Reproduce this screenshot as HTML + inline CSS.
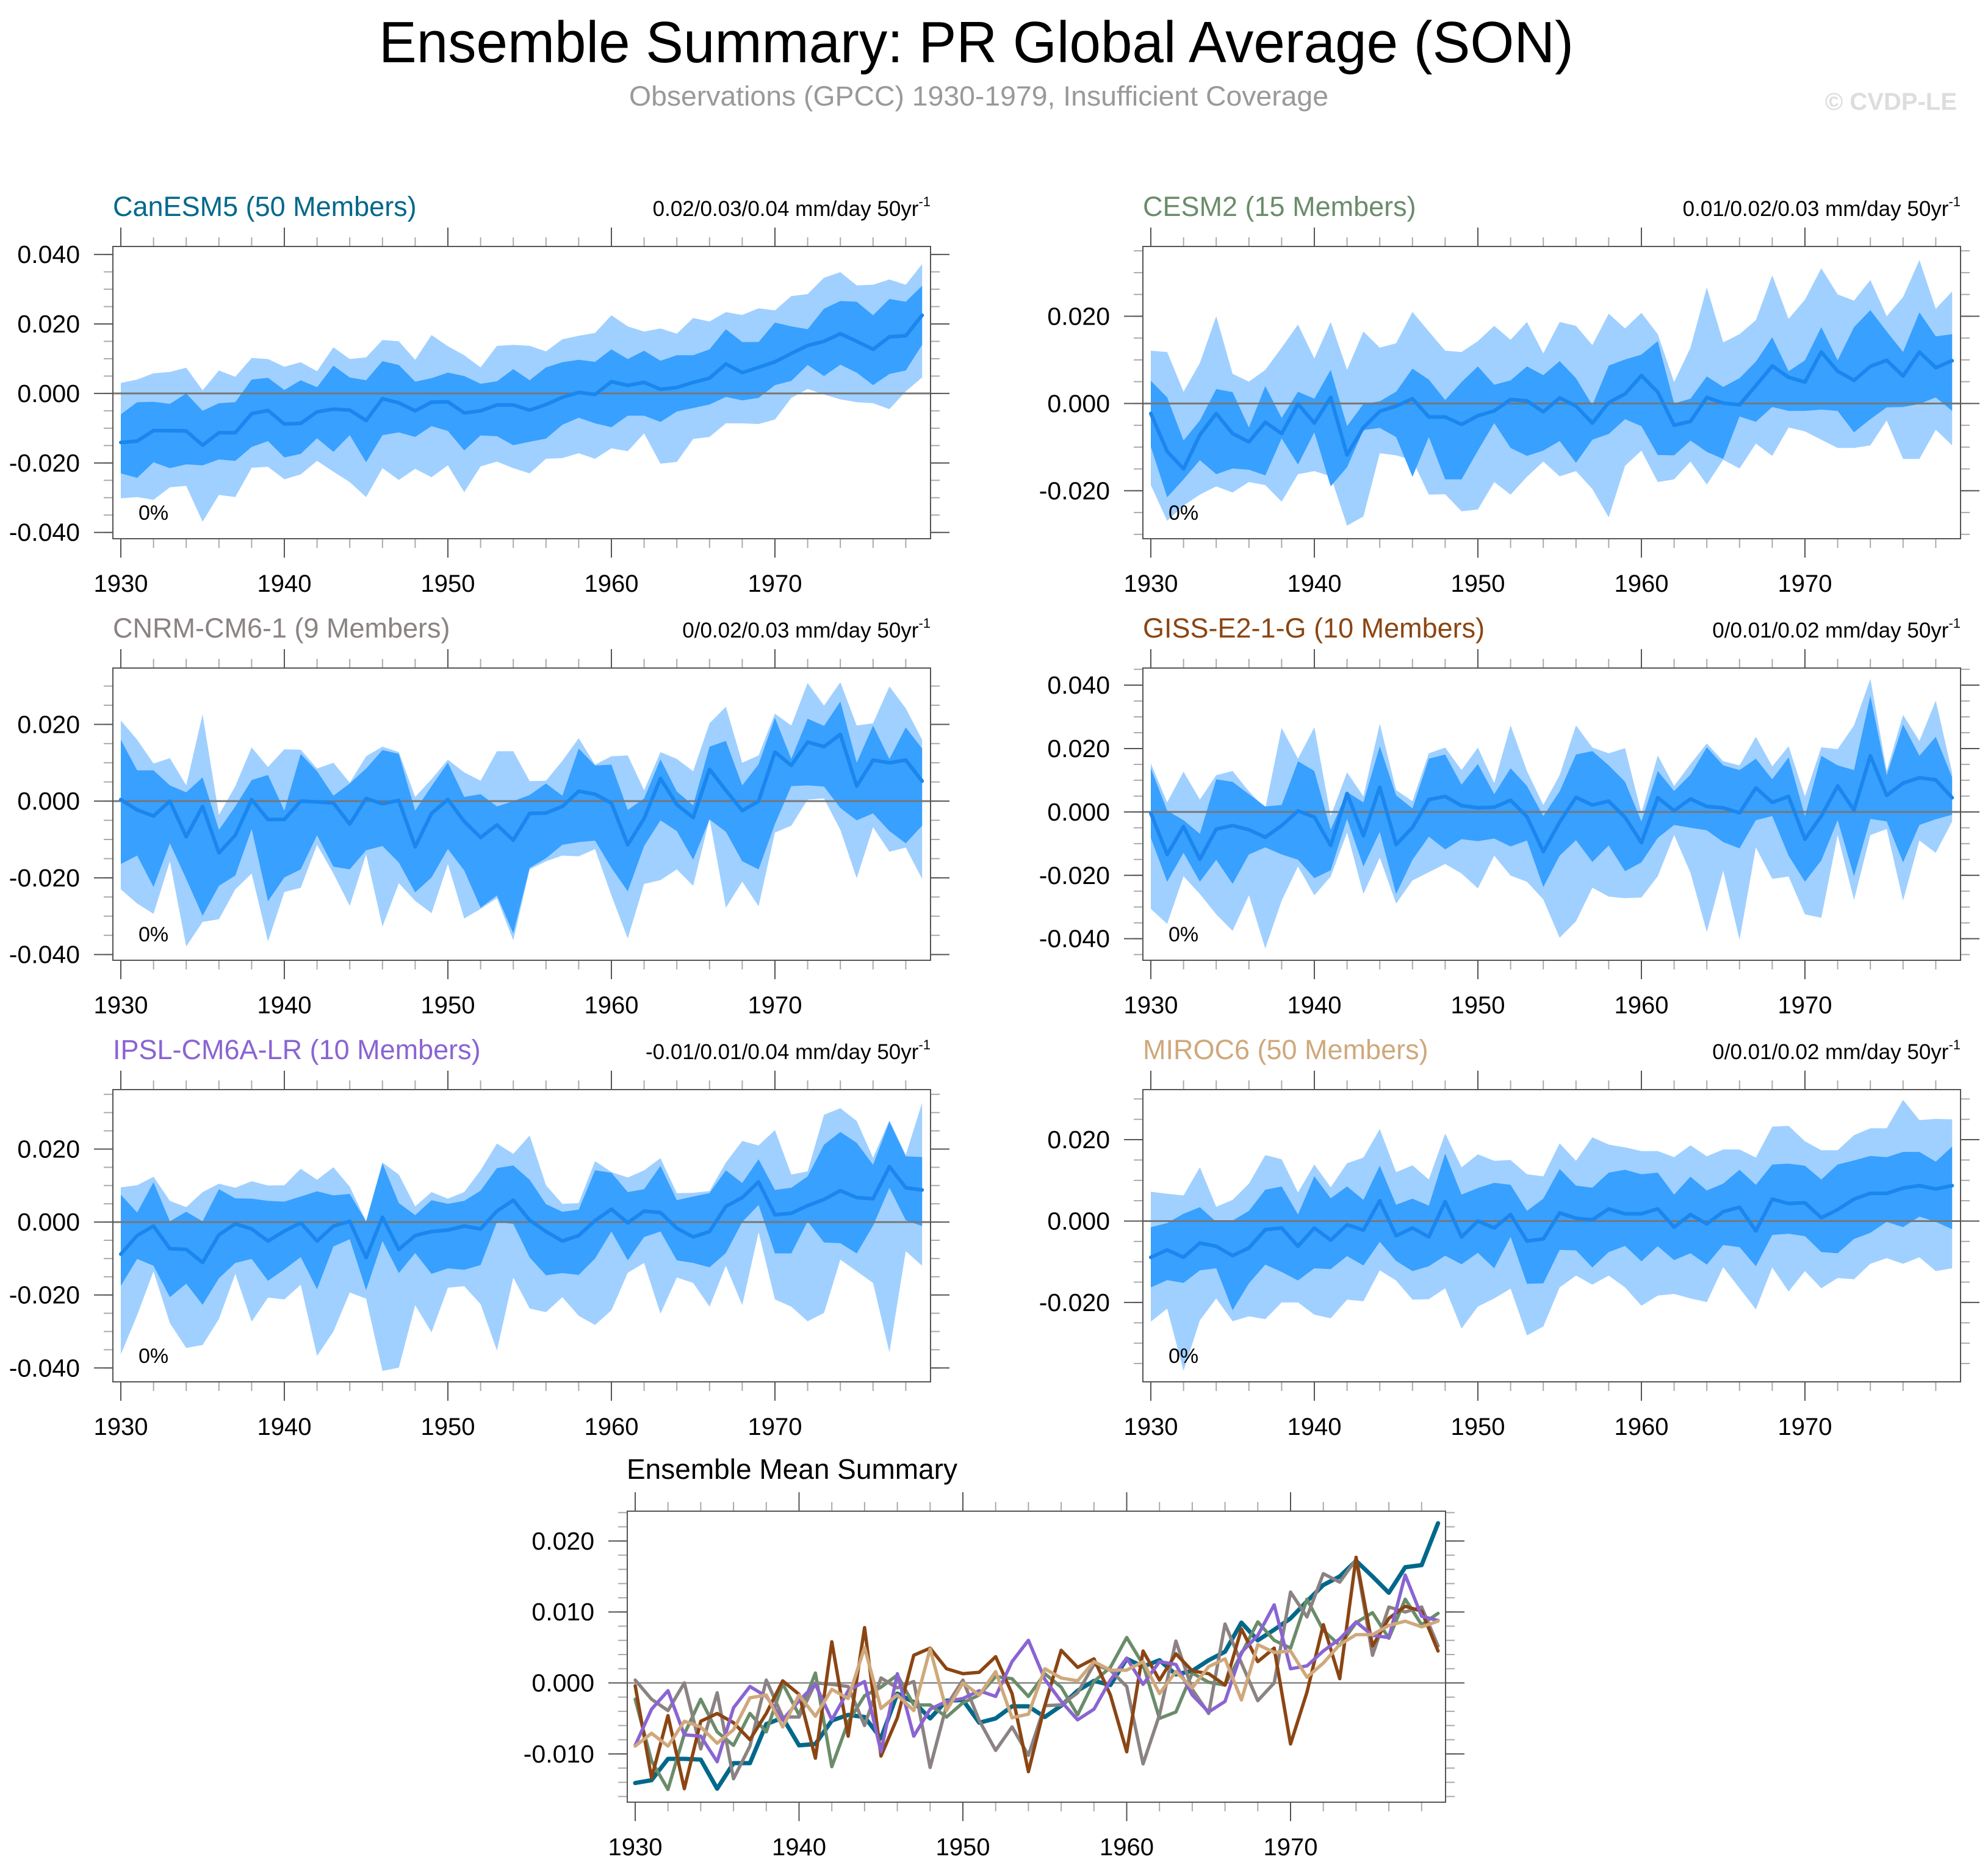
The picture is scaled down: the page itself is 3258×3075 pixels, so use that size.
<!DOCTYPE html>
<html><head><meta charset="utf-8"><title>Ensemble Summary: PR Global Average (SON)</title>
<style>
html,body{margin:0;padding:0;background:#fff;}
svg{display:block;font-family:"Liberation Sans",Arial,sans-serif;}
</style></head>
<body>
<svg id="fig" width="3258" height="3075" viewBox="0 0 3258 3075" xmlns="http://www.w3.org/2000/svg">
<rect x="0" y="0" width="3258" height="3075" fill="#fff"/>
<text x="1600" y="102" font-size="96" text-anchor="middle" fill="#000" textLength="1958" lengthAdjust="spacingAndGlyphs">Ensemble Summary: PR Global Average (SON)</text>
<text x="1604" y="173" font-size="45" text-anchor="middle" fill="#999" textLength="1146" lengthAdjust="spacingAndGlyphs">Observations (GPCC) 1930-1979, Insufficient Coverage</text>
<text x="3207" y="180" font-size="40" font-weight="bold" text-anchor="end" fill="#ddd">© CVDP-LE</text>
<g id="panels"></g>
</svg>
<script>
const years = [1930,1931,1932,1933,1934,1935,1936,1937,1938,1939,1940,1941,1942,1943,1944,1945,1946,1947,1948,1949,1950,1951,1952,1953,1954,1955,1956,1957,1958,1959,1960,1961,1962,1963,1964,1965,1966,1967,1968,1969,1970,1971,1972,1973,1974,1975,1976,1977,1978,1979];
const yearTickLabels = ["1930","1940","1950","1960","1970"];

// CanESM5
const canMean = [-0.0141,-0.0137,-0.0107,-0.0107,-0.0108,-0.0149,-0.0113,-0.0113,-0.0058,-0.0049,-0.0088,-0.0086,-0.0053,-0.0045,-0.0048,-0.0078,-0.0015,-0.0027,-0.005,-0.0025,-0.0024,-0.0056,-0.005,-0.0033,-0.0033,-0.0048,-0.0032,-0.0011,0.0003,-0.0003,0.0034,0.0023,0.0032,0.0012,0.0017,0.0032,0.0044,0.0085,0.006,0.0075,0.0091,0.0115,0.0138,0.015,0.0172,0.015,0.0127,0.0163,0.0166,0.0225];
const canDarkHi = [-0.006,-0.0025,-0.0024,-0.003,0.0,-0.005,-0.0028,-0.0025,0.004,0.0045,0.001,0.0038,0.0018,0.008,0.0046,0.0038,0.0093,0.0082,0.0034,0.0044,0.006,0.005,0.0028,0.0035,0.007,0.0038,0.0075,0.009,0.0097,0.0091,0.0127,0.0099,0.0123,0.0094,0.011,0.011,0.0127,0.0185,0.0148,0.0148,0.0204,0.0193,0.0185,0.0244,0.0266,0.0264,0.0225,0.0272,0.0264,0.031];
const canDarkLo = [-0.023,-0.0243,-0.0198,-0.0215,-0.0204,-0.0207,-0.019,-0.0194,-0.0154,-0.0137,-0.0184,-0.0174,-0.0129,-0.0168,-0.012,-0.0198,-0.012,-0.0112,-0.0125,-0.0094,-0.0108,-0.0164,-0.0121,-0.0123,-0.0149,-0.0139,-0.013,-0.009,-0.007,-0.0086,-0.0097,-0.0064,-0.0064,-0.0082,-0.0052,-0.0042,-0.0032,-0.001,-0.002,-0.0013,0.0024,0.0036,0.0082,0.005,0.0083,0.006,0.0024,0.0056,0.0066,0.014];
const canLightHi = [0.003,0.004,0.0058,0.0062,0.0074,0.0009,0.0066,0.0048,0.0102,0.0099,0.0077,0.009,0.0064,0.0133,0.0099,0.0104,0.0154,0.015,0.0097,0.0168,0.0136,0.011,0.0075,0.0137,0.014,0.0137,0.0121,0.0156,0.0166,0.0174,0.0225,0.0193,0.0178,0.0187,0.0172,0.0217,0.0207,0.0234,0.0226,0.0245,0.0239,0.028,0.0286,0.0333,0.0349,0.0311,0.0313,0.0328,0.0313,0.0372];
const canLightLo = [-0.0302,-0.0298,-0.0306,-0.027,-0.0266,-0.0369,-0.0292,-0.0298,-0.0214,-0.0211,-0.0247,-0.0233,-0.0194,-0.0225,-0.0255,-0.0298,-0.0215,-0.0249,-0.0217,-0.0241,-0.0207,-0.0284,-0.021,-0.0196,-0.0215,-0.023,-0.0188,-0.0186,-0.0172,-0.0188,-0.0158,-0.0166,-0.0115,-0.0202,-0.0197,-0.0131,-0.0125,-0.0086,-0.0086,-0.0088,-0.0075,-0.0013,0.0013,-0.0003,-0.0017,-0.0025,-0.0028,-0.0045,0.0006,0.0046];

// CESM2
const cesmMean = [-0.0023,-0.011,-0.015,-0.0072,-0.0023,-0.0069,-0.0088,-0.0043,-0.0069,-0.0001,-0.0045,0.0014,-0.0118,-0.0055,-0.0018,-0.0006,0.0011,-0.0031,-0.0031,-0.0048,-0.0028,-0.0017,0.0009,0.0006,-0.0019,0.0013,-0.0006,-0.0045,0.0002,0.0022,0.0064,0.0026,-0.005,-0.0041,0.0014,0.0001,-0.0003,0.0041,0.0086,0.006,0.0049,0.0118,0.0074,0.0053,0.0085,0.0099,0.0063,0.0118,0.0082,0.0098];
const cesmDarkHi = [0.0052,0.0014,-0.0085,-0.0039,0.0033,0.0026,-0.0055,0.004,-0.0033,0.0027,0.0011,0.0077,-0.0052,-0.0001,0.0005,0.0027,0.008,0.0055,0.0008,0.0049,0.0085,0.0043,0.0053,0.0085,0.0065,0.0097,0.0058,-0.0004,0.0087,0.0101,0.0112,0.0143,0.0,0.0011,0.0062,0.0038,0.0058,0.0096,0.0152,0.0074,0.0099,0.0175,0.0099,0.0175,0.0214,0.0165,0.0118,0.0209,0.0154,0.0159];
const cesmDarkLo = [-0.0099,-0.0215,-0.0174,-0.013,-0.0162,-0.0149,-0.0152,-0.0165,-0.008,-0.014,-0.0066,-0.019,-0.0146,-0.0061,-0.0056,-0.0077,-0.0168,-0.0077,-0.0174,-0.0174,-0.0108,-0.0045,-0.0102,-0.012,-0.0108,-0.0086,-0.0136,-0.0083,-0.007,-0.0036,-0.0052,-0.0118,-0.0119,-0.0085,-0.0111,-0.0127,-0.003,-0.0042,-0.0008,-0.0017,-0.0017,-0.0014,-0.0017,-0.0066,-0.0036,-0.0009,-0.0008,-0.0001,0.0014,-0.0017];
const cesmLightHi = [0.0121,0.0118,0.0027,0.0093,0.02,0.0068,0.005,0.0077,0.0128,0.0181,0.0103,0.0187,0.0077,0.0165,0.0128,0.0138,0.021,0.0165,0.0121,0.0118,0.0143,0.0178,0.0146,0.0187,0.0115,0.0187,0.0178,0.0134,0.0206,0.0172,0.0208,0.0159,0.0049,0.0128,0.0266,0.014,0.0159,0.0191,0.0294,0.0194,0.0238,0.031,0.025,0.0236,0.0283,0.02,0.0244,0.0329,0.0217,0.0257];
const cesmLightLo = [-0.0187,-0.0269,-0.0234,-0.0209,-0.019,-0.0204,-0.018,-0.0187,-0.0225,-0.0162,-0.0155,-0.0167,-0.028,-0.0259,-0.0114,-0.0119,-0.013,-0.0209,-0.0208,-0.0247,-0.0243,-0.018,-0.0209,-0.0168,-0.0133,-0.0167,-0.0155,-0.0196,-0.0261,-0.0143,-0.0108,-0.018,-0.0174,-0.0133,-0.0186,-0.0129,-0.0149,-0.0092,-0.012,-0.0055,-0.0064,-0.0083,-0.0102,-0.0102,-0.0096,-0.0039,-0.0127,-0.0127,-0.006,-0.0096];

// CNRM-CM6-1
const cnrmMean = [0.0004,-0.0023,-0.0039,0.0,-0.0093,-0.0014,-0.0135,-0.0089,0.0004,-0.0048,-0.0048,0.0,-0.0002,-0.0005,-0.006,0.0007,-0.0007,0.0002,-0.0119,-0.0032,0.0004,-0.0053,-0.0095,-0.0062,-0.0102,-0.0032,-0.0031,-0.0014,0.0026,0.0018,-0.0005,-0.0114,-0.0045,0.0059,-0.0009,-0.0043,0.0083,0.0028,-0.0025,0.0,0.0128,0.0093,0.0154,0.0142,0.0174,0.0039,0.0107,0.01,0.0107,0.0052];
const cnrmDarkHi = [0.016,0.008,0.008,0.0041,0.0023,0.0062,-0.0075,-0.0014,0.0055,0.0068,-0.0025,0.0123,0.0078,0.0014,0.0046,0.0085,0.0133,0.0123,-0.0025,0.0039,0.01,0.0011,0.0018,-0.0014,0.0,0.0016,0.0046,0.0014,0.0137,0.0093,0.0095,-0.0023,0.0007,0.0109,0.0025,-0.0011,0.0142,0.0157,0.0041,0.0096,0.0217,0.011,0.0215,0.0196,0.026,0.01,0.0197,0.011,0.0192,0.0137];
const cnrmDarkLo = [-0.0164,-0.0142,-0.0224,-0.011,-0.0203,-0.0299,-0.0221,-0.0194,-0.0073,-0.0261,-0.0199,-0.0178,-0.0089,-0.0171,-0.0178,-0.0128,-0.0117,-0.016,-0.0238,-0.0199,-0.0125,-0.0181,-0.0278,-0.0246,-0.0345,-0.0174,-0.0149,-0.0114,-0.0107,-0.0103,-0.0174,-0.0235,-0.0117,-0.005,-0.0078,-0.0153,-0.0048,-0.008,-0.0157,-0.0178,-0.006,0.0039,0.0041,0.0038,-0.0018,-0.005,-0.0032,-0.0078,-0.011,-0.0064];
const cnrmLightHi = [0.021,0.016,0.0098,0.0112,0.0041,0.0226,-0.0036,0.0039,0.014,0.0089,0.0135,0.0134,0.0085,0.01,0.0048,0.0117,0.0142,0.0128,0.0011,0.0057,0.0108,0.0075,0.0053,0.013,0.013,0.0052,0.0053,0.0105,0.0164,0.0095,0.0117,0.0119,0.0028,0.0128,0.011,0.0078,0.0203,0.0246,0.01,0.0119,0.0228,0.0197,0.0308,0.0249,0.031,0.0197,0.0203,0.0299,0.0242,0.016];
const cnrmLightLo = [-0.023,-0.0267,-0.0294,-0.0157,-0.0379,-0.0315,-0.0308,-0.023,-0.0189,-0.0366,-0.0237,-0.0226,-0.0114,-0.0189,-0.0273,-0.0139,-0.0327,-0.0214,-0.026,-0.0292,-0.0164,-0.0306,-0.0281,-0.0253,-0.0363,-0.0178,-0.0157,-0.0142,-0.0144,-0.0125,-0.0246,-0.0358,-0.0216,-0.0206,-0.0178,-0.0221,-0.0046,-0.0278,-0.021,-0.0274,-0.0082,-0.0064,0.0004,0.0007,-0.0075,-0.0201,-0.0068,-0.0132,-0.0121,-0.0203];

// GISS-E2-1-G
const gissMean = [-0.0004,-0.0134,-0.0046,-0.0149,-0.0054,-0.0043,-0.0056,-0.008,-0.0043,0.0003,-0.0016,-0.0106,0.0058,-0.0075,0.0078,-0.0103,-0.0049,0.0039,0.0049,0.002,0.0013,0.0015,0.0037,-0.0015,-0.0125,-0.0032,0.0046,0.0022,0.0034,-0.0017,-0.0097,0.0045,0.0004,0.0041,0.0017,0.0013,-0.0003,0.0076,0.003,0.0049,-0.0086,-0.0013,0.0082,0.0006,0.0177,0.0052,0.0091,0.0108,0.0101,0.0045];
const gissDarkHi = [0.0138,0.0004,-0.0026,-0.0069,0.0103,0.0095,0.0056,0.0017,0.0022,0.016,0.0129,-0.0056,0.0063,0.003,0.0207,0.0052,0.0011,0.0168,0.0181,0.0086,0.0151,0.0056,0.0138,0.0082,-0.0013,0.0065,0.0181,0.0192,0.0147,0.0095,-0.003,0.0129,0.0066,0.0118,0.0204,0.0147,0.0132,0.0168,0.0103,0.0172,-0.0013,0.0177,0.0147,0.0132,0.0366,0.0116,0.0276,0.0177,0.0237,0.0109];
const gissDarkLo = [-0.0082,-0.022,-0.0129,-0.022,-0.0151,-0.0227,-0.0134,-0.0112,-0.0134,-0.0151,-0.0209,-0.0184,-0.0022,-0.0172,-0.0063,-0.0259,-0.0151,-0.0078,-0.0118,-0.0086,-0.0092,-0.0084,-0.0109,-0.009,-0.0237,-0.0138,-0.0089,-0.0158,-0.0106,-0.0187,-0.0159,-0.0082,-0.0041,-0.005,-0.0058,-0.0095,-0.0115,-0.0026,-0.0013,-0.0138,-0.022,-0.0153,-0.0026,-0.0203,-0.0022,-0.003,-0.0159,-0.0041,-0.0023,-0.0009];
const gissLightHi = [0.0153,0.003,0.0127,0.0039,0.0116,0.0129,0.0065,0.0011,0.0265,0.0168,0.0267,-0.0013,0.0125,0.0049,0.0278,0.0069,0.0034,0.0185,0.0203,0.0132,0.0203,0.0091,0.0273,0.0129,0.0022,0.0116,0.0273,0.0203,0.0185,0.0201,-0.0004,0.0178,0.0082,0.0151,0.0216,0.016,0.0147,0.0237,0.0144,0.0207,0.0049,0.0204,0.0198,0.0273,0.042,0.0129,0.0306,0.0224,0.0351,0.0125];
const gissLightLo = [-0.0306,-0.0353,-0.0203,-0.0259,-0.0323,-0.0375,-0.0263,-0.0431,-0.028,-0.0172,-0.0263,-0.0204,-0.0065,-0.0259,-0.0144,-0.0289,-0.0216,-0.019,-0.0164,-0.0194,-0.0241,-0.0138,-0.0201,-0.022,-0.0276,-0.0397,-0.0345,-0.0239,-0.0267,-0.0272,-0.027,-0.0203,-0.0073,-0.0192,-0.0379,-0.0185,-0.0403,-0.0112,-0.0211,-0.0204,-0.0323,-0.0334,-0.0073,-0.0278,-0.0073,-0.0054,-0.028,-0.009,-0.0129,-0.003];

// IPSL-CM6A-LR
const ipslMean = [-0.0088,-0.0037,-0.0011,-0.0073,-0.0075,-0.0111,-0.0035,-0.0005,-0.0019,-0.0052,-0.0025,-0.0002,-0.0052,-0.0011,0.0002,-0.0097,0.0013,-0.0075,-0.0037,-0.0026,-0.0022,-0.0011,-0.0019,0.003,0.006,0.0005,-0.0026,-0.0052,-0.0037,0.0004,0.0035,-0.0002,0.003,0.0026,-0.0017,-0.0041,-0.0026,0.0043,0.0067,0.011,0.002,0.0024,0.0045,0.0062,0.0086,0.0067,0.0064,0.0152,0.0094,0.0088];
const ipslDarkHi = [0.0075,0.0026,0.0109,0.0002,0.0028,0.0002,0.009,0.0065,0.0064,0.0058,0.0056,0.007,0.0084,0.0073,0.0077,0.0002,0.0161,0.0052,0.0019,0.006,0.005,0.0058,0.0086,0.0148,0.0155,0.0116,0.0049,0.0028,0.0034,0.0142,0.0135,0.0082,0.009,0.0154,0.006,0.007,0.0079,0.0142,0.0107,0.0172,0.0088,0.0094,0.0125,0.0212,0.0247,0.0217,0.0157,0.0275,0.018,0.0178];
const ipslDarkLo = [-0.0175,-0.0101,-0.012,-0.0206,-0.0169,-0.0227,-0.0154,-0.0112,-0.0101,-0.0161,-0.013,-0.0096,-0.0184,-0.0067,-0.0047,-0.0187,-0.0052,-0.014,-0.0085,-0.0142,-0.0127,-0.0131,-0.0118,0.0,-0.0005,-0.0097,-0.0146,-0.014,-0.0145,-0.01,-0.0026,-0.0105,-0.0041,-0.0026,-0.0105,-0.0112,-0.0124,-0.0085,0.0,0.0047,-0.0086,-0.0086,0.0002,-0.0056,-0.0058,-0.0086,-0.001,0.0094,0.0005,-0.0011];
const ipslLightHi = [0.0095,0.0101,0.0124,0.0058,0.0041,0.0082,0.0105,0.0094,0.0112,0.01,0.0101,0.0146,0.0116,0.015,0.0097,0.0002,0.0163,0.013,0.0043,0.0082,0.0064,0.0082,0.0142,0.0215,0.0187,0.0237,0.0101,0.005,0.0052,0.0167,0.0137,0.0122,0.0142,0.0175,0.0079,0.008,0.0085,0.0163,0.0222,0.021,0.0252,0.013,0.0139,0.0294,0.0312,0.0277,0.0176,0.0279,0.0184,0.0327];
const ipslLightLo = [-0.0363,-0.0255,-0.0135,-0.0277,-0.0345,-0.0337,-0.0266,-0.0142,-0.0273,-0.0207,-0.0212,-0.0172,-0.0367,-0.03,-0.0193,-0.021,-0.0408,-0.0399,-0.0228,-0.0302,-0.018,-0.0176,-0.0225,-0.0352,-0.0152,-0.0237,-0.0247,-0.0206,-0.0257,-0.0282,-0.0242,-0.0139,-0.0112,-0.0251,-0.0152,-0.0167,-0.0232,-0.012,-0.0228,-0.0028,-0.0212,-0.0232,-0.0272,-0.0249,-0.0103,-0.0135,-0.0167,-0.0357,-0.008,-0.012];

// MIROC6
const mirocMean = [-0.0089,-0.0071,-0.0089,-0.0054,-0.0062,-0.0085,-0.0066,-0.0021,-0.0017,-0.0062,-0.0017,-0.0047,-0.0009,-0.0022,0.005,-0.0036,-0.0017,-0.0039,0.0048,-0.0039,0.0,-0.0017,0.0016,-0.0049,-0.0044,0.002,0.0007,0.0003,0.003,0.0018,0.0018,0.003,-0.0015,0.0016,-0.0007,0.0023,0.0034,-0.0024,0.0054,0.0043,0.0045,0.0008,0.0028,0.0054,0.0068,0.0068,0.0081,0.0087,0.0079,0.0087];
const mirocDarkHi = [-0.0015,-0.0005,0.0018,0.0034,-0.0002,0.0001,0.0025,0.0077,0.0085,0.0016,0.011,0.0056,0.0085,0.0052,0.0136,0.004,0.0055,0.0038,0.0166,0.0065,0.0081,0.0094,0.0089,0.0025,0.0055,0.0128,0.0087,0.0082,0.0119,0.0126,0.0115,0.0119,0.0065,0.0109,0.0075,0.0092,0.0126,0.0089,0.0139,0.0141,0.0136,0.0102,0.0139,0.0149,0.016,0.0157,0.017,0.017,0.0146,0.0183];
const mirocDarkLo = [-0.0163,-0.0145,-0.0152,-0.0121,-0.0116,-0.0219,-0.0153,-0.0107,-0.0125,-0.0146,-0.0116,-0.0118,-0.0086,-0.0109,-0.0051,-0.0098,-0.0123,-0.0111,-0.0085,-0.0106,-0.0078,-0.0116,-0.0039,-0.0154,-0.0153,-0.0071,-0.0072,-0.0114,-0.0076,-0.0061,-0.0099,-0.0062,-0.0096,-0.0079,-0.0107,-0.0059,-0.0064,-0.0111,-0.0034,-0.0031,-0.0037,-0.0076,-0.0079,-0.0044,-0.0029,-0.0002,-0.0015,0.0011,-0.0002,-0.002];
const mirocLightHi = [0.0072,0.0067,0.0063,0.0132,0.0035,0.0052,0.0092,0.0162,0.0152,0.007,0.0139,0.0083,0.0142,0.0156,0.0226,0.012,0.0137,0.0102,0.0215,0.0132,0.0164,0.0148,0.015,0.0115,0.011,0.0191,0.0148,0.0206,0.0188,0.0181,0.0172,0.0172,0.0157,0.0186,0.0159,0.0176,0.0176,0.0156,0.0232,0.0234,0.0196,0.0174,0.0174,0.0211,0.0228,0.0228,0.0298,0.0248,0.0251,0.025];
const mirocLightLo = [-0.0247,-0.0215,-0.0368,-0.0244,-0.019,-0.0246,-0.0234,-0.0241,-0.02,-0.02,-0.023,-0.0239,-0.0193,-0.0197,-0.0121,-0.0146,-0.0193,-0.0192,-0.0165,-0.0264,-0.021,-0.019,-0.0166,-0.0281,-0.0259,-0.0163,-0.0134,-0.0156,-0.0134,-0.0163,-0.0208,-0.0183,-0.0179,-0.019,-0.0199,-0.0113,-0.0165,-0.0217,-0.0114,-0.0173,-0.0123,-0.0165,-0.014,-0.0143,-0.0105,-0.0091,-0.0105,-0.0089,-0.0123,-0.0116];

const NS = "http://www.w3.org/2000/svg";
const root = document.getElementById("panels");
function mk(tag, attrs, parent) {
  const e = document.createElementNS(NS, tag);
  for (const k in attrs) e.setAttribute(k, attrs[k]);
  (parent || root).appendChild(e);
  return e;
}
function fmt(v) { return (Math.abs(v) < 1e-9 ? 0 : v).toFixed(3); }

function drawAxes(g, L) {
  const sx = yr => L.xa + (yr - 1930) * L.xs;
  const sy = v => L.y1 - (v - L.dmin) / (L.dmax - L.dmin) * (L.y1 - L.y0);
  for (let yr = 1930; yr <= 1978; yr += 2) {
    const major = (yr % 10 === 0);
    const len = major ? 31 : 15;
    const col = major ? "#555" : "#aaa";
    const t1 = mk("line", {x1: sx(yr), x2: sx(yr), y1: L.y0, y2: L.y0 - len, stroke: col, "stroke-width": 2}, g);
    
    
    const t2 = mk("line", {x1: sx(yr), x2: sx(yr), y1: L.y1, y2: L.y1 + len, stroke: col, "stroke-width": 2}, g);
    
    
  }
  yearTickLabels.forEach(lab => {
    const t = mk("text", {x: sx(+lab), y: L.y1 + 87, "font-size": 40, "text-anchor": "middle", fill: "#000"}, g);
    t.textContent = lab;
    
    
  });
  const kmin = Math.ceil(L.dmin / L.minor - 1e-6), kmax = Math.floor(L.dmax / L.minor + 1e-6);
  for (let k = kmin; k <= kmax; k++) {
    const y = sy(k * L.minor);
    const a = mk("line", {x1: L.x0, x2: L.x0 - 15, y1: y, y2: y, stroke: "#aaa", "stroke-width": 2}, g);
    
    
    const b = mk("line", {x1: L.x1, x2: L.x1 + 15, y1: y, y2: y, stroke: "#aaa", "stroke-width": 2}, g);
    
    
  }
  L.majors.forEach(v => {
    const y = sy(v);
    const a = mk("line", {x1: L.x0, x2: L.x0 - 31, y1: y, y2: y, stroke: "#555", "stroke-width": 2}, g);
    
    
    const b = mk("line", {x1: L.x1, x2: L.x1 + 31, y1: y, y2: y, stroke: "#555", "stroke-width": 2}, g);
    
    
    const t = mk("text", {x: L.x0 - 54, y: y + 14, "font-size": 41, "text-anchor": "end", fill: "#000"}, g);
    t.textContent = fmt(v);
    
    
  });
  return {sx, sy};
}

function bandPoly(g, hi, lo, sx, sy, fill, name) {
  const pts = [];
  years.forEach((yr, i) => pts.push(sx(yr).toFixed(1) + "," + sy(hi[i]).toFixed(1)));
  for (let i = years.length - 1; i >= 0; i--) pts.push(sx(years[i]).toFixed(1) + "," + sy(lo[i]).toFixed(1));
  const p = mk("polygon", {points: pts.join(" "), fill: fill, stroke: "none"}, g);
  
  
}
function seriesLine(g, vals, sx, sy, color, w, name) {
  const pts = years.map((yr, i) => sx(yr).toFixed(1) + "," + sy(vals[i]).toFixed(1)).join(" ");
  const p = mk("polyline", {points: pts, fill: "none", stroke: color, "stroke-width": w, "stroke-linejoin": "round", "stroke-linecap": "round"}, g);
  
  
}

const panelDefs = [
  {title: "CanESM5 (50 Members)", color: "#00688b", trend: "0.02/0.03/0.04 mm/day 50yr", col: 0, row: 0, dmin: -0.0418, dmax: 0.0423, majors: [-0.04,-0.02,0,0.02,0.04], mean: canMean, dh: canDarkHi, dl: canDarkLo, lh: canLightHi, ll: canLightLo, slug: "canesm5"},
  {title: "CESM2 (15 Members)", color: "#6a8c6a", trend: "0.01/0.02/0.03 mm/day 50yr", col: 1, row: 0, dmin: -0.031, dmax: 0.036, majors: [-0.02,0,0.02], mean: cesmMean, dh: cesmDarkHi, dl: cesmDarkLo, lh: cesmLightHi, ll: cesmLightLo, slug: "cesm2"},
  {title: "CNRM-CM6-1 (9 Members)", color: "#8b8282", trend: "0/0.02/0.03 mm/day 50yr", col: 0, row: 1, dmin: -0.0415, dmax: 0.0347, majors: [-0.04,-0.02,0,0.02], mean: cnrmMean, dh: cnrmDarkHi, dl: cnrmDarkLo, lh: cnrmLightHi, ll: cnrmLightLo, slug: "cnrm-cm6-1"},
  {title: "GISS-E2-1-G (10 Members)", color: "#8b4513", trend: "0/0.01/0.02 mm/day 50yr", col: 1, row: 1, dmin: -0.0468, dmax: 0.0454, majors: [-0.04,-0.02,0,0.02,0.04], mean: gissMean, dh: gissDarkHi, dl: gissDarkLo, lh: gissLightHi, ll: gissLightLo, slug: "giss-e2-1-g"},
  {title: "IPSL-CM6A-LR (10 Members)", color: "#8a64d2", trend: "-0.01/0.01/0.04 mm/day 50yr", col: 0, row: 2, dmin: -0.0438, dmax: 0.0363, majors: [-0.04,-0.02,0,0.02], mean: ipslMean, dh: ipslDarkHi, dl: ipslDarkLo, lh: ipslLightHi, ll: ipslLightLo, slug: "ipsl-cm6a-lr"},
  {title: "MIROC6 (50 Members)", color: "#cfa87b", trend: "0/0.01/0.02 mm/day 50yr", col: 1, row: 2, dmin: -0.0395, dmax: 0.0323, majors: [-0.02,0,0.02], mean: mirocMean, dh: mirocDarkHi, dl: mirocDarkLo, lh: mirocLightHi, ll: mirocLightLo, slug: "miroc6"}
];

panelDefs.forEach(P => {
  const dx = P.col * 1688, dy = P.row * 691;
  const L = {x0: 185 + dx, x1: 1525 + dx, y0: 404 + dy, y1: 883 + dy, xa: 198 + dx, xs: 26.8, dmin: P.dmin, dmax: P.dmax, majors: P.majors, minor: 0.005};
  const g = mk("g", {});
  
  
  const s = drawAxes(g, L);
  bandPoly(g, P.lh, P.ll, s.sx, s.sy, "#a0d0ff", "light-range-band");
  bandPoly(g, P.dh, P.dl, s.sx, s.sy, "#38a0ff", "dark-range-band");
  const z = mk("line", {x1: L.x0, x2: L.x1, y1: s.sy(0), y2: s.sy(0), stroke: "#777", "stroke-width": 3}, g);
  
  
  seriesLine(g, P.mean, s.sx, s.sy, "#1a86ee", 6, "ensemble-mean-line");
  const box = mk("rect", {x: L.x0, y: L.y0, width: L.x1 - L.x0, height: L.y1 - L.y0, fill: "none", stroke: "#555", "stroke-width": 2}, g);
  
  
  const t = mk("text", {x: L.x0, y: L.y0 - 50, "font-size": 45, fill: P.color}, g);
  t.textContent = P.title;
  
  
  const tr = mk("text", {x: L.x1, y: L.y0 - 50, "font-size": 35, "text-anchor": "end", fill: "#000"}, g);
  
  
  const ts1 = mk("tspan", {}, tr); ts1.textContent = P.trend;
  const ts2 = mk("tspan", {"font-size": 22, dy: -16}, tr); ts2.textContent = "-1";
  const pc = mk("text", {x: L.x0 + 42, y: L.y1 - 31, "font-size": 34, fill: "#000"}, g);
  pc.textContent = "0%";
  
  
});

const summaryTicks = [-0.01, 0, 0.01, 0.02];
const summaryColors = ["#00688b", "#6a8c6a", "#8b8282", "#8b4513", "#8a64d2", "#cfa87b"];
(function () {
  const L = {x0: 1028, x1: 2369, y0: 2477, y1: 2954, xa: 1041, xs: 26.85, dmin: -0.0168, dmax: 0.0242, majors: summaryTicks, minor: 0.002};
  const g = mk("g", {});
  
  
  const s = drawAxes(g, L);
  const z = mk("line", {x1: L.x0, x2: L.x1, y1: s.sy(0), y2: s.sy(0), stroke: "#999", "stroke-width": 3}, g);
  
  
  panelDefs.forEach((P, i) => {
    seriesLine(g, P.mean, s.sx, s.sy, summaryColors[i], i === 0 ? 7 : 5.5, "summary-line-" + P.slug);
  });
  const box = mk("rect", {x: L.x0, y: L.y0, width: L.x1 - L.x0, height: L.y1 - L.y0, fill: "none", stroke: "#555", "stroke-width": 2}, g);
  
  
  const t = mk("text", {x: 1027, y: 2424, "font-size": 46, fill: "#000"}, g);
  t.textContent = "Ensemble Mean Summary";
  
  
})();
</script>
</body></html>
